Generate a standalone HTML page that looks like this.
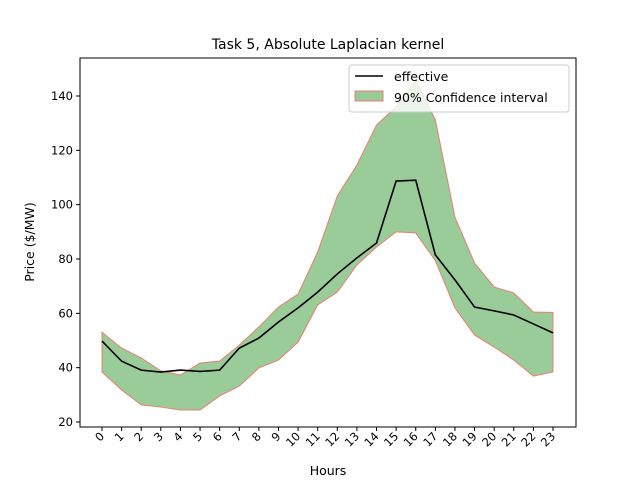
<!DOCTYPE html>
<html><head><meta charset="utf-8"><style>
body{margin:0;background:#fff;font-family:"Liberation Sans","DejaVu Sans",sans-serif}
svg text{font-family:"DejaVu Sans","Liberation Sans",sans-serif}
</style></head><body>
<svg id="c" width="640" height="480" viewBox="0 0 640 480" xmlns="http://www.w3.org/2000/svg">
<rect width="640" height="480" fill="#fff"/>
<text x="328" y="49" font-size="14" text-anchor="middle">Task 5, Absolute Laplacian kernel</text>
<g id="plot"></g>
<rect x="80" y="58" width="496" height="369" fill="none" stroke="#000" stroke-width="1"/>
<g id="xt"></g><g id="yt"></g>
<text x="328" y="475" font-size="12.5" text-anchor="middle">Hours</text>
<text transform="translate(34,242) rotate(-90)" font-size="12.5" text-anchor="middle">Price ($/MW)</text>
<g>
<rect x="349" y="65" width="220" height="47" rx="3" fill="#fff" fill-opacity="0.8" stroke="#ccc"/>
<line x1="355" y1="76" x2="383" y2="76" stroke="#000" stroke-width="1.5"/>
<text x="394" y="81" font-size="12.5">effective</text>
<rect x="355" y="91" width="28" height="10" fill="#99cc99" stroke="#e8806f"/>
<text x="394" y="102" font-size="12.5">90% Confidence interval</text>
</g>
</svg>
<script>
const hours=[0,1,2,3,4,5,6,7,8,9,10,11,12,13,14,15,16,17,18,19,20,21,22,23];
const effective=[49.8,42.4,39.1,38.4,39.1,38.6,39.1,47.2,50.9,56.8,62,67.8,74.5,80.4,85.9,108.7,109,81.5,72.3,62.3,60.9,59.4,56.1,52.8];
const upper=[53.1,47.2,43.6,38.8,37.3,41.7,42.4,48.3,55,62.3,67.1,82.6,103.2,114.6,129.3,136,145.9,131.2,95.4,78.5,69.7,67.5,60.5,60.3];
const lower=[38.4,31.8,26.3,25.5,24.4,24.4,29.6,33.2,39.9,42.8,49.4,63.1,67.8,77.8,84.4,90,89.6,79.4,62,52,47.6,42.8,36.9,38.4];
const yTicks=[20,40,60,80,100,120,140];
const NS="http://www.w3.org/2000/svg";
const X=h=>102+h*(451/23);
const Y=v=>422-(v-20)*(326/120);
function mk(t,a,p){const e=document.createElementNS(NS,t);for(const k in a)e.setAttribute(k,a[k]);p.appendChild(e);return e;}
const plot=document.getElementById('plot');
let d=hours.map((h,i)=>(i?'L':'M')+X(h)+','+Y(upper[i])).join('')+hours.slice().reverse().map(h=>'L'+X(h)+','+Y(lower[h])).join('')+'Z';
const band=mk('path',{d:d,fill:'#99cc99',stroke:'#e8806f','stroke-width':1},plot);


const ln=mk('polyline',{points:hours.map((h,i)=>X(h)+','+Y(effective[i])).join(' '),fill:'none',stroke:'#000','stroke-width':1.6},plot);


const xt=document.getElementById('xt');
hours.forEach(h=>{
 mk('line',{x1:X(h),x2:X(h),y1:427,y2:431,stroke:'#000'},xt);
 const t=mk('text',{x:X(h)+3,y:437,'font-size':11.5,'text-anchor':'end',transform:`rotate(-45 ${X(h)+3} 437)`},xt);
 t.textContent=h;
 
 
});
const yt=document.getElementById('yt');
yTicks.forEach(v=>{
 mk('line',{x1:76,x2:80,y1:Y(v),y2:Y(v),stroke:'#000'},yt);
 const t=mk('text',{x:73,y:Y(v)+4,'font-size':11.5,'text-anchor':'end'},yt);
 t.textContent=v;
 
 
});
</script>
</body></html>
